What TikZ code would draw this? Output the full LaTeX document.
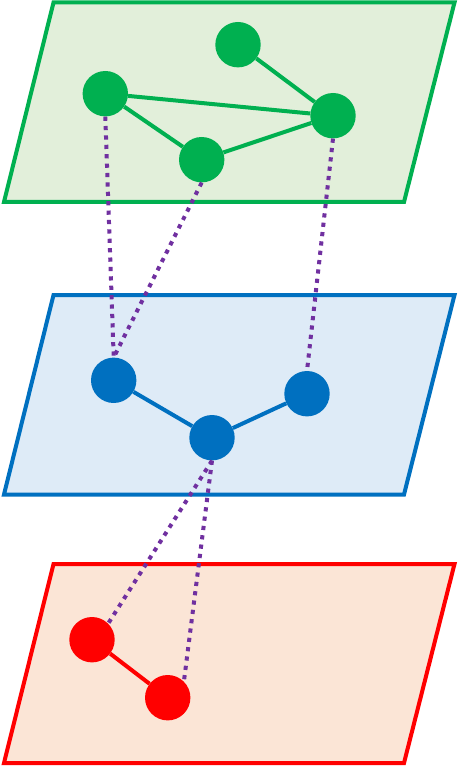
\documentclass[tikz,border=0pt]{standalone}
\usetikzlibrary{backgrounds}
\definecolor{gline}{HTML}{00B050}
\definecolor{gfill}{HTML}{E2EFDA}
\definecolor{bline}{HTML}{0070C0}
\definecolor{bfill}{HTML}{DEEBF7}
\definecolor{rline}{HTML}{FF0000}
\definecolor{rfill}{HTML}{FBE5D6}
\definecolor{purp}{HTML}{7030A0}
\tikzset{
  plane/.style={line width=4pt, line join=miter},
  vert/.style={circle, minimum size=45.4pt, inner sep=0pt, draw=none},
  edge/.style={line width=4pt},
  link/.style={line width=4pt, color=purp, dash pattern=on 4.2pt off 5.2pt},
}
\begin{document}
\begin{tikzpicture}[x=1pt,y=-1pt]
\useasboundingbox (0,0) rectangle (457,767);
% planes
\draw[plane, draw=gline, fill=gfill] (53.5,2.5) -- (454.5,2.5) -- (404,202) -- (4,202) -- cycle;
\draw[plane, draw=bline, fill=bfill] (53.5,295) -- (454.5,295) -- (404,494.5) -- (4,494.5) -- cycle;
\draw[plane, draw=rline, fill=rfill] (53.5,564) -- (454.5,564) -- (404,763) -- (4,763) -- cycle;
% green nodes
\node[vert, fill=gline] (g1) at (238,44.7) {};
\node[vert, fill=gline] (g2) at (105.3,93.7) {};
\node[vert, fill=gline] (g3) at (333,115.7) {};
\node[vert, fill=gline] (g4) at (201.7,159.7) {};
% blue nodes
\node[vert, fill=bline] (b1) at (113.7,380.3) {};
\node[vert, fill=bline] (b2) at (212,437.7) {};
\node[vert, fill=bline] (b3) at (307,393.7) {};
% red nodes
\node[vert, fill=rline] (r1) at (92,639.7) {};
\node[vert, fill=rline] (r2) at (167.7,697.7) {};
% edges
\draw[edge, gline] (g1) -- (g3);
\draw[edge, gline] (g2) -- (g3);
\draw[edge, gline] (g2) -- (g4);
\draw[edge, gline] (g4) -- (g3);
\draw[edge, bline] (b1) -- (b2);
\draw[edge, bline] (b2) -- (b3);
\draw[edge, rline] (r1) -- (r2);
% inter-layer links
\draw[link] (g2.south) -- (b1.north);
\draw[link] (g4.south) -- (b1.north);
\draw[link] (g3.south) -- (b3.north);
\draw[link] (b2.south) -- (r1.north east);
\draw[link] (b2.south) -- (r2.north east);
\end{tikzpicture}
\end{document}
